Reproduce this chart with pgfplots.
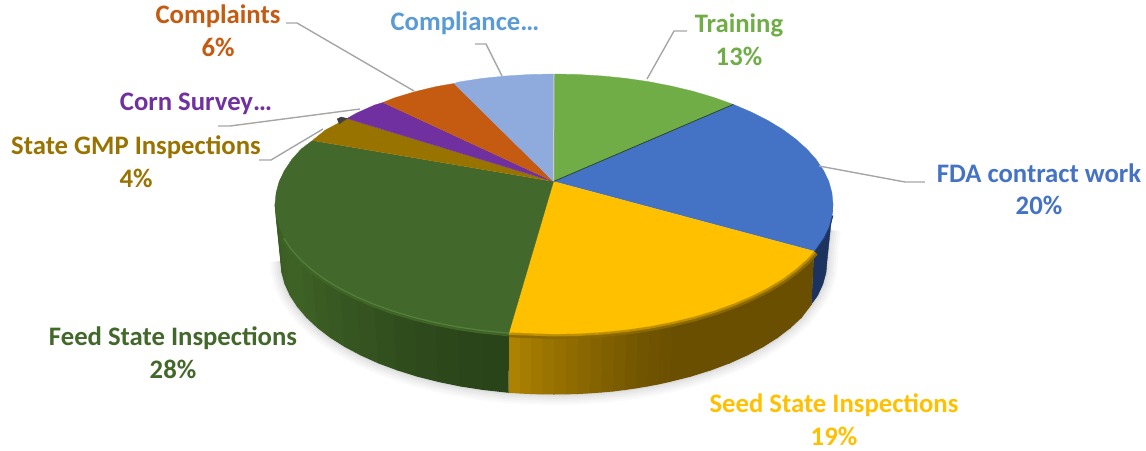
\documentclass[border=0pt]{standalone}
\usepackage{pgfplots}
\usepackage{pgfplotstable}
\usepackage{fontspec}
\setmainfont{Carlito}
\pgfplotsset{compat=1.18}
\definecolor{cTrain}{HTML}{70AD47}
\definecolor{cFDA}{HTML}{4472C4}
\definecolor{cSeed}{HTML}{FFC000}
\definecolor{cFeed}{HTML}{43682B}
\definecolor{cGMP}{HTML}{997300}
\definecolor{cCorn}{HTML}{7030A0}
\definecolor{cComp}{HTML}{C55A11}
\definecolor{cCompl}{HTML}{8FAADC}
\definecolor{tCompl}{HTML}{5B9BD5}
\definecolor{lead}{HTML}{A6A6A6}
\definecolor{gD}{HTML}{2A4419}
\definecolor{gM}{HTML}{3E6226}
\definecolor{sL}{HTML}{AD8200}
\definecolor{sD}{HTML}{6A4F00}
\definecolor{bD}{HTML}{1C325F}
\pgfplotstableread{
x y
553.5 181.5
554 74
578.3 74.5
602.4 76
626.2 78.4
649.4 81.8
671.9 86.2
693.5 91.4
714 97.5
733.3 104.4
}\train
\pgfplotstableread{
x y
553.5 181.5
733.3 104.4
751.3 112.1
767.7 120.4
782.6 129.4
795.6 139
806.9 149.1
816.2 159.5
823.5 170.4
828.8 181.4
831.9 192.7
833 204
831.9 215.3
828.8 226.6
823.5 237.6
814 251.2
}\fda
\pgfplotstableread{
x y
553.5 181.5
814 251.2
806.9 258.9
795.6 269
782.6 278.6
767.7 287.6
751.3 295.9
733.3 303.6
714 310.5
693.5 316.6
671.9 321.8
649.4 326.2
626.2 329.6
602.4 332
578.3 333.5
554 334
509 332.3
}\seed
\pgfplotstableread{
x y
553.5 181.5
509 332.3
481.8 329.6
458.6 326.2
436.1 321.8
414.5 316.6
394 310.5
374.7 303.6
356.7 295.9
340.3 287.6
325.4 278.6
312.4 269
301.1 258.9
291.8 248.5
284.5 237.6
279.2 226.6
276.1 215.3
275 204
276.1 192.7
279.2 181.4
284.5 170.4
291.8 159.5
301.1 149.1
312.4 140.5
}\feed
\pgfplotstableread{
x y
553.5 181.5
312.4 140.5
325.4 130
347 118.5
}\gmp
\pgfplotstableread{
x y
553.5 181.5
347 118.5
356.7 113
374.7 105
383 102.5
}\corn
\pgfplotstableread{
x y
553.5 181.5
383 102.5
394 98
414.5 91.8
436.1 86.6
454 83.5
}\compl
\pgfplotstableread{
x y
553.5 181.5
454 83.5
458.6 82
481.8 78.4
505.6 76
529.7 74.5
554 74
}\compliance
\pgfplotstableread{
x y
509 332.3
481.8 329.6
458.6 326.2
436.1 321.8
414.5 316.6
394 310.5
374.7 303.6
356.7 295.9
340.3 287.6
325.4 278.6
312.4 269
301.1 258.9
291.8 248.5
284.5 237.6
}\greenrim
\pgfplotstableread{
x y
814 251.2
806.9 258.9
795.6 269
782.6 278.6
767.7 287.6
751.3 295.9
733.3 303.6
714 310.5
693.5 316.6
671.9 321.8
649.4 326.2
626.2 329.6
602.4 332
578.3 333.5
554 334
509 332.3
}\seedrim
\pgfplotstableread{
x y
831.9 215.3
828.8 226.6
823.5 237.6
814 251.2
}\bluerim
\pgfplotstableread{
x y
281 261
282 272.6
285.1 284.1
290.3 295.4
297.5 306.5
306.6 317.2
317.6 327.5
330.4 337.3
344.9 346.5
361 355
378.5 362.9
397.4 369.9
417.5 376.2
438.6 381.5
460.6 386
483.3 389.5
509 392.3
554 394
577.8 393.5
601.4 392
624.7 389.5
647.4 386
669.4 381.5
690.5 376.2
710.6 369.9
729.5 362.9
747 355
763.1 346.5
777.6 337.3
790.4 327.5
801.4 317.2
811.5 304
817.7 295.4
822.9 284.1
826 272.6
827 261
828 245
830 230
}\shadow
\newcommand\strip[2]{\addplot[fill=#1,draw=#1,line width=1pt] coordinates {#2};}
\newcommand\lbl[4]{\node[text=#1,font=\fontsize{26.7}{30}\selectfont\bfseries,inner sep=0pt] at (axis cs:#2,#3) {#4};}
\begin{document}
\begin{tikzpicture}
\path[use as bounding box] (0,0) rectangle (1146pt,450pt);
\begin{axis}[
  at={(0,0)}, anchor=south west,
  scale only axis, width=1146pt, height=450pt,
  xmin=0, xmax=1146, ymin=0, ymax=450, y dir=reverse,
  hide axis, clip=true, no markers,
]
% shadow
\addplot[black,opacity=.018,line width=22pt] table {\shadow};
\addplot[black,opacity=.02,line width=18pt] table {\shadow};
\addplot[black,opacity=.022,line width=14pt] table {\shadow};
\addplot[black,opacity=.025,line width=10pt] table {\shadow};
\addplot[black,opacity=.03,line width=6pt] table {\shadow};
\addplot[black,opacity=.04,line width=3pt] table {\shadow};
% blue side
\addplot[fill=bD,draw=bD,line width=.4pt] coordinates {(833,204)(831.9,215.3)(828.8,226.6)(823.5,237.6)(814,251.2)(811.5,304)(817.7,295.4)(822.9,284.1)(826,272.6)(827,261)(833,204)};
% seed side
\strip{sD}{(814,251.2)(806.9,258.9)(801.4,317.2)(811.5,304)}
\strip{sD}{(806.9,258.9)(795.6,269)(790.4,327.5)(801.4,317.2)}
\strip{sD}{(795.6,269)(782.6,278.6)(777.6,337.3)(790.4,327.5)}
\strip{sD}{(782.6,278.6)(767.7,287.6)(763.1,346.5)(777.6,337.3)}
\strip{sD}{(767.7,287.6)(751.3,295.9)(747,355)(763.1,346.5)}
\strip{sD}{(751.3,295.9)(733.3,303.6)(729.5,362.9)(747,355)}
\strip{sD}{(733.3,303.6)(714,310.5)(710.6,369.9)(729.5,362.9)}
\strip{sD}{(714,310.5)(693.5,316.6)(690.5,376.2)(710.6,369.9)}
\strip{sD}{(693.5,316.6)(671.9,321.8)(669.4,381.5)(690.5,376.2)}
\strip{sL!3!sD}{(671.9,321.8)(660.6,324.1)(658.4,383.9)(669.4,381.5)}
\strip{sL!7!sD}{(660.6,324.1)(649.4,326.2)(647.4,386)(658.4,383.9)}
\strip{sL!12!sD}{(649.4,326.2)(637.8,328)(636,387.9)(647.4,386)}
\strip{sL!18!sD}{(637.8,328)(626.2,329.6)(624.7,389.5)(636,387.9)}
\strip{sL!25!sD}{(626.2,329.6)(614.3,331)(613,391)(624.7,389.5)}
\strip{sL!32!sD}{(614.3,331)(602.4,332)(601.4,392)(613,391)}
\strip{sL!40!sD}{(602.4,332)(590.3,332.9)(589.6,392.9)(601.4,392)}
\strip{sL!48!sD}{(590.3,332.9)(578.3,333.5)(577.8,393.5)(589.6,392.9)}
\strip{sL!56!sD}{(578.3,333.5)(566,333.9)(566,393.9)(577.8,393.5)}
\strip{sL!64!sD}{(566,333.9)(554,334)(554,394)(566,393.9)}
\strip{sL!72!sD}{(554,334)(542.5,333.9)(542.5,393.9)(554,394)}
\strip{sL!80!sD}{(542.5,333.9)(531,333.6)(531,393.6)(542.5,393.9)}
\strip{sL!90!sD}{(531,333.6)(520,333)(520,393)(531,393.6)}
\strip{sL!100!sD}{(520,333)(509,332.3)(509,392.3)(520,393)}
% feed side
\strip{gM!75!gD}{(276.1,215.3)(275,204)(281,261)(282,272.6)}
\strip{gM!80!gD}{(279.2,226.6)(276.1,215.3)(282,272.6)(285.1,284.1)}
\strip{gM!90!gD}{(284.5,237.6)(279.2,226.6)(285.1,284.1)(290.3,295.4)}
\strip{gM}{(291.8,248.5)(284.5,237.6)(290.3,295.4)(297.5,306.5)}
\strip{gM}{(301.1,258.9)(291.8,248.5)(297.5,306.5)(306.6,317.2)}
\strip{gM!90!gD}{(312.4,269)(301.1,258.9)(306.6,317.2)(317.6,327.5)}
\strip{gM!80!gD}{(325.4,278.6)(312.4,269)(317.6,327.5)(330.4,337.3)}
\strip{gM!70!gD}{(340.3,287.6)(325.4,278.6)(330.4,337.3)(344.9,346.5)}
\strip{gM!60!gD}{(356.7,295.9)(340.3,287.6)(344.9,346.5)(361,355)}
\strip{gM!50!gD}{(374.7,303.6)(356.7,295.9)(361,355)(378.5,362.9)}
\strip{gM!38!gD}{(394,310.5)(374.7,303.6)(378.5,362.9)(397.4,369.9)}
\strip{gM!26!gD}{(414.5,316.6)(394,310.5)(397.4,369.9)(417.5,376.2)}
\strip{gM!18!gD}{(436.1,321.8)(414.5,316.6)(417.5,376.2)(438.6,381.5)}
\strip{gM!10!gD}{(458.6,326.2)(436.1,321.8)(438.6,381.5)(460.6,386)}
\strip{gM!5!gD}{(481.8,329.6)(458.6,326.2)(460.6,386)(483.3,389.5)}
\strip{gM!0!gD}{(509,332.3)(481.8,329.6)(483.3,389.5)(508.6,392.3)}
% bevels
\addplot[color={rgb,255:red,64;green,100;blue,40},line width=8pt] table {\greenrim};
\addplot[color={rgb,255:red,84;green,128;blue,58},line width=3pt] table {\greenrim};
\addplot[color={rgb,255:red,140;green,105;blue,0},line width=10pt] table {\seedrim};
\addplot[color={rgb,255:red,190;green,143;blue,0},line width=5pt] table {\seedrim};
\addplot[color={rgb,255:red,34;green,60;blue,115},line width=3pt] table {\bluerim};
% top faces
\addplot[fill=cTrain,draw=cTrain,line width=.3pt] table {\train};
\addplot[fill=cFDA,draw=cFDA,line width=.3pt] table {\fda};
\addplot[fill=cSeed,draw=cSeed,line width=.3pt] table {\seed};
\addplot[fill=cFeed,draw=cFeed,line width=.3pt] table {\feed};
\addplot[fill=cGMP,draw=cGMP,line width=.3pt] table {\gmp};
\addplot[fill=cCorn,draw=cCorn,line width=.3pt] table {\corn};
\addplot[fill=cComp,draw=cComp,line width=.3pt] table {\compl};
\addplot[fill=cCompl,draw=cCompl,line width=.3pt] table {\compliance};
% separators and small details
\addplot[color=gray!40,line width=1pt] coordinates {(554,74)(553.5,181.5)};
\addplot[color=gD,line width=.7pt] coordinates {(553.5,181.5)(733.3,104.4)};
\addplot[fill=black!75,draw=black!75] coordinates {(337,119)(341,117)(347,118.5)(339,124)};
% leader lines
\addplot[color=lead,line width=1.4pt] coordinates {(647,79)(674,31)(687,31)};
\addplot[color=lead,line width=1.4pt] coordinates {(819,166)(905,182)(925,182)};
\addplot[color=lead,line width=1.4pt] coordinates {(502,76)(486,44)(475,44)};
\addplot[color=lead,line width=1.4pt] coordinates {(414,91)(297,23)(286,23)};
\addplot[color=lead,line width=1.4pt] coordinates {(360,109)(230,126)(218,126)};
\addplot[color=lead,line width=1.4pt] coordinates {(323,129)(271,160)(259,160)};
% labels
\lbl{cTrain}{739}{25.5}{Training}
\lbl{cTrain}{739}{56}{13\%}
\lbl{tCompl}{465}{23.5}{Compliance…}
\lbl{cComp}{218}{16.5}{Complaints}
\lbl{cComp}{218}{47.5}{6\%}
\lbl{cCorn}{196}{103.5}{Corn Survey…}
\lbl{cGMP}{136}{147.5}{State GMP Inspections}
\lbl{cGMP}{136}{178}{4\%}
\lbl{cFeed}{173}{338}{Feed State Inspections}
\lbl{cFeed}{173}{369}{28\%}
\lbl{cSeed}{834}{405.5}{Seed State Inspections}
\lbl{cSeed}{834}{436}{19\%}
\lbl{cFDA}{1039}{173.5}{FDA contract work}
\lbl{cFDA}{1039}{205}{20\%}
\end{axis}
\end{tikzpicture}
\end{document}
